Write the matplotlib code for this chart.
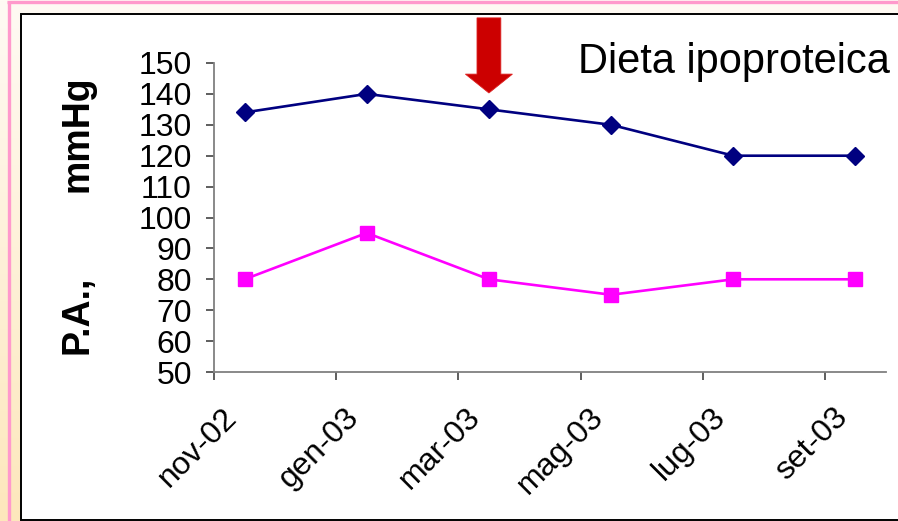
import numpy as np
import matplotlib
matplotlib.use("Agg")
import matplotlib.pyplot as plt
from matplotlib.patches import Rectangle, Polygon
from matplotlib.transforms import ScaledTranslation, blended_transform_factory

plt.rcParams["font.family"] = ["Liberation Sans", "DejaVu Sans"]

# data: monthly check-ups, blood pressure in mmHg
months = ["nov-02", "gen-03", "mar-03", "mag-03", "lug-03", "set-03"]
systolic = [134, 140, 135, 130, 120, 120]
diastolic = [80, 95, 80, 75, 80, 80]
diet_start = "mar-03"

# time axis counted in months from nov-02, readings taken mid-month
month_pos = np.arange(len(months)) * 2
reading_pos = month_pos + 0.5

W, H = 898, 521
fig = plt.figure(figsize=(W / 100, H / 100), dpi=100)

# slide background in pixel units: cream fading to peach at the bottom
bg = fig.add_axes([0, 0, 1, 1], zorder=-10)
grad = np.linspace(0, 1, 256)[:, None]
top = np.array([255, 250, 244]) / 255
bottom = np.array([253, 231, 188]) / 255
img = top + (bottom - top) * grad[..., None]
bg.imshow(img, aspect="auto", extent=[0, W, H, 0])
bg.set_xlim(0, W)
bg.set_ylim(H, 0)
bg.axis("off")

# pink slide border (top and left)
bg.plot([7, W + 5], [1.8, 1.8], color="#ff99cc", linewidth=2.4,
        solid_capstyle="butt")
bg.plot([8.6, 8.6], [0.6, H + 5], color="#ff99cc", linewidth=2.4,
        solid_capstyle="butt")
# white chart box with black frame
bg.add_patch(Rectangle((20.7, 14), W + 20, 505.5, facecolor="white",
                       edgecolor="black", linewidth=1.4))

ax = fig.add_axes([214 / W, 1 - 372 / H, 672 / W, 309 / H])
ax.patch.set_alpha(0)

ax.plot(reading_pos, systolic, color="#000080", linewidth=1.9,
        marker="D", markersize=9.5, markeredgecolor="#000080", clip_on=False)
ax.plot(reading_pos, diastolic, color="#ff00ff", linewidth=1.9,
        marker="s", markersize=10, markeredgecolor="#ff00ff", clip_on=False)

ax.set_xlim(0, 11)
ax.set_ylim(50, 150)
ax.set_yticks(np.arange(50, 151, 10))
ax.set_xticks(month_pos)
ax.set_xticklabels([])

for side in ["top", "right"]:
    ax.spines[side].set_visible(False)
for side in ["left", "bottom"]:
    ax.spines[side].set_color("#808080")
    ax.spines[side].set_linewidth(1.3)

ax.tick_params(axis="both", direction="out", length=6, width=1.1, color="#333333")
ax.tick_params(axis="y", labelsize=23, pad=10)

# rotated month labels, right end just past each tick
trans = blended_transform_factory(ax.transData, ax.transAxes)
offset = ScaledTranslation(0.18, -0.41, fig.dpi_scale_trans)
for pos, lab in zip(month_pos, months):
    ax.text(pos, 0, lab, transform=trans + offset, rotation=45,
            ha="right", va="center", rotation_mode="anchor", fontsize=23)

# axis title split around the tick labels
fig.text(88 / W, 1 - 133.5 / H, "mmHg", rotation=90, rotation_mode="anchor",
         ha="center", va="baseline", fontsize=27, fontweight="bold")
fig.text(88 / W, 1 - 315 / H, "P.A.,", rotation=90, rotation_mode="anchor",
         ha="center", va="baseline", fontsize=27, fontweight="bold")

# red arrow marking the start of the diet
xa = reading_pos[months.index(diet_start)]
arrow_tr = blended_transform_factory(ax.transData, ax.transAxes)
sw, hw = 0.195, 0.385
y_top, y_head, y_tip = 1.146, 0.964, 0.903
arrow = Polygon([(xa - sw, y_top), (xa + sw, y_top), (xa + sw, y_head),
                 (xa + hw, y_head), (xa, y_tip), (xa - hw, y_head),
                 (xa - sw, y_head)], closed=True, facecolor="#cc0000",
                edgecolor="#dd2222", linewidth=0.6, transform=arrow_tr,
                clip_on=False)
ax.add_patch(arrow)

fig.text(578 / W, 1 - 73 / H, "Dieta ipoproteica", fontsize=30,
         ha="left", va="baseline")

fig.savefig("out.png", dpi=100)
